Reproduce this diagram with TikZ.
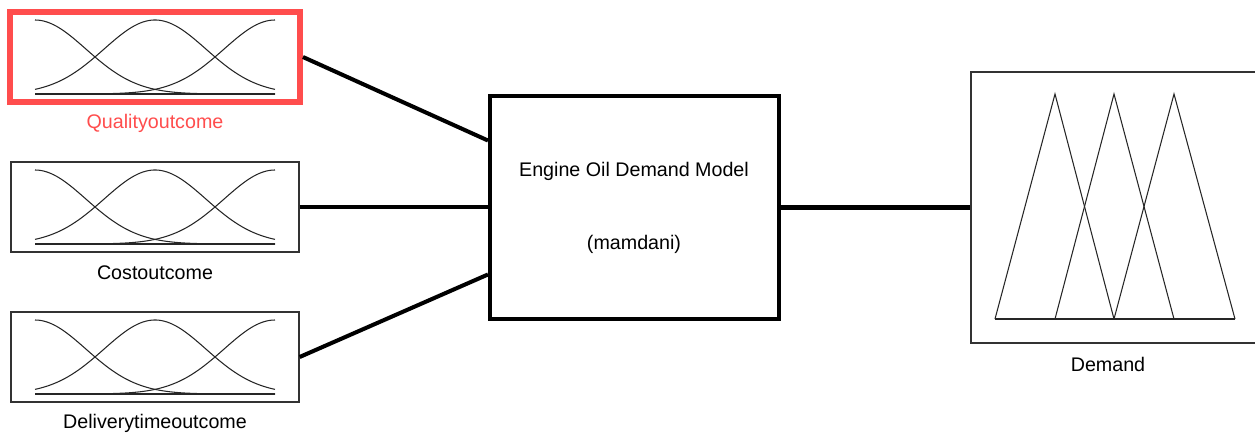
\documentclass[tikz,border=0pt]{standalone}
\usepackage{fontspec}
\setmainfont{Liberation Sans}
\usetikzlibrary{calc,positioning}
\definecolor{oznaka}{RGB}{255,77,77}
\tikzset{
  ulaz/.style={draw=black!80,line width=0.8pt,minimum width=5.76cm,
               minimum height=1.8cm,inner sep=0pt},
  istak/.style={draw=oznaka,line width=3.4pt,minimum width=5.8cm,
                minimum height=1.8cm},
  model/.style={draw=black,line width=2.3pt,minimum width=5.78cm,
                minimum height=4.46cm,inner sep=0pt},
  izlaz/.style={draw=black!80,line width=0.8pt,minimum width=5.82cm,
                minimum height=5.42cm,inner sep=0pt},
  natpis/.style={font=\fontsize{11.2}{13}\selectfont,inner sep=1pt},
  veza/.style={line width=2.3pt,black},
  kriva/.style={line width=0.6pt,black!85},
}

\begin{document}
\begin{tikzpicture}[x=0.02cm,y=-0.02cm]
  \useasboundingbox (0,0) rectangle (1255,433);

  % ---------- ULAZI ----------
  \node[ulaz]       (kval)  at (155,57)  {};
  \node[ulaz,istak] (kvalr) at (155,57)  {};
  \node[ulaz]       (cena)  at (155,207) {};
  \node[ulaz]       (rok)   at (155,357) {};

  % gausove funkcije pripadnosti u svakom ulazu
  \foreach \b in {94,244,394}{
    \foreach \c in {35,155,275}
      \draw[kriva] plot[domain=35:275,samples=90]
        (\x,{\b-74*exp(-0.5*((\x-\c)/51)^2)});
    \draw[kriva] (35,\b) -- (275,\b);
  }

  \node[natpis,text=oznaka] (tkval) at (155,123) {Qualityoutcome};
  \node[natpis]             (tcena) at (155,273) {Costoutcome};
  \node[natpis]             (trok)  at (155,423) {Deliverytimeoutcome};

  % ---------- MODEL ----------
  \node[model] (fis) at (634.5,207.5) {};
  \node[natpis] (tfis) at (634,171) {Engine Oil Demand Model};
  \node[natpis] (tmam) at (634,244) {(mamdani)};

  % ---------- IZLAZ ----------
  \node[izlaz] (potr) at (1116.5,207.5) {};
  % trougaone funkcije pripadnosti
  \draw[kriva] (995,319) -- (1055,94) -- (1114,319);
  \draw[kriva] (1055,319) -- (1114,94) -- (1174,319);
  \draw[kriva] (1114,319) -- (1174,94) -- (1235,319);
  \draw[kriva] (995,319) -- (1235,319);
  \node[natpis] (tpotr) at (1108,364) {Demand};

  % ---------- VEZE ----------
  \draw[veza] (kvalr.east) -- ($(fis.north west)!0.205!(fis.south west)$);
  \draw[veza] (cena.east)  -- (cena.east -| fis.west);
  \draw[veza] (rok.east)   -- ($(fis.north west)!0.795!(fis.south west)$);
  \draw[veza] (fis.east)   -- (potr.west);

\end{tikzpicture}
\end{document}
